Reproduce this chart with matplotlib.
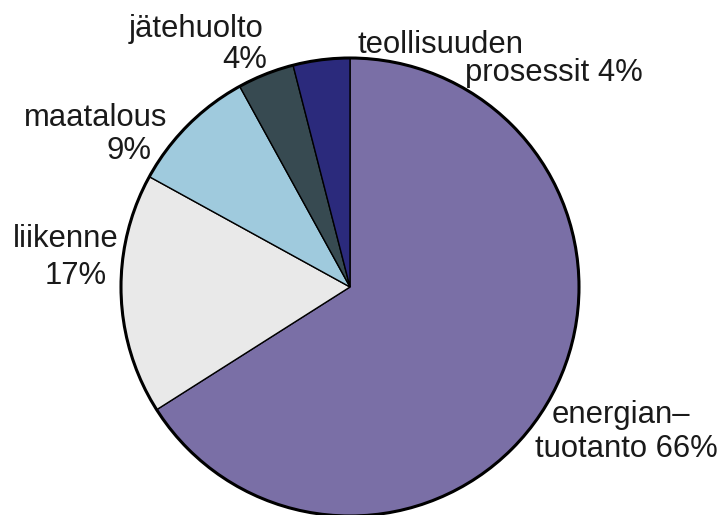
import matplotlib.pyplot as plt
from matplotlib.patches import Circle

plt.rcParams['font.family'] = ['Liberation Sans', 'DejaVu Sans']

labels = ["energiantuotanto", "liikenne", "maatalous", "jätehuolto", "teollisuuden prosessit"]
shares = [66, 17, 9, 4, 4]
colors = ["#7a6fa6", "#e9e9e9", "#9fcadd", "#374a51", "#2b2a7c"]

# label lines (text, x-left in px, baseline y in px from top)
label_lines = [
    ("jätehuolto", 129, 37),
    ("4%", 222, 68),
    ("teollisuuden", 358, 53),
    ("prosessit 4%", 465, 81),
    ("maatalous", 24, 126),
    ("9%", 107, 159),
    ("liikenne", 13, 247),
    ("17%", 45, 284),
    ("energian–", 552, 423),
    ("tuotanto 66%", 535, 457),
]

W, H = 726, 515
fig = plt.figure(figsize=(W / 100, H / 100), dpi=100)
ax = fig.add_axes([0, 0, 1, 1])

cx, cy, r = 350, H - 287, 229
ax.pie(shares, colors=colors, startangle=90, counterclock=False,
       center=(cx, cy), radius=r, frame=True,
       wedgeprops=dict(edgecolor="black", linewidth=1.0))
ax.add_patch(Circle((cx, cy), r, fill=False, edgecolor="black", linewidth=2.2))
ax.set_xlim(0, W)
ax.set_ylim(0, H)
ax.set_aspect("equal")
ax.axis("off")

for txt, x, y in label_lines:
    ax.text(x, H - y, txt, fontsize=22.3, color="#1a1a1a", ha="left", va="baseline")

fig.savefig("out.png", dpi=100)
